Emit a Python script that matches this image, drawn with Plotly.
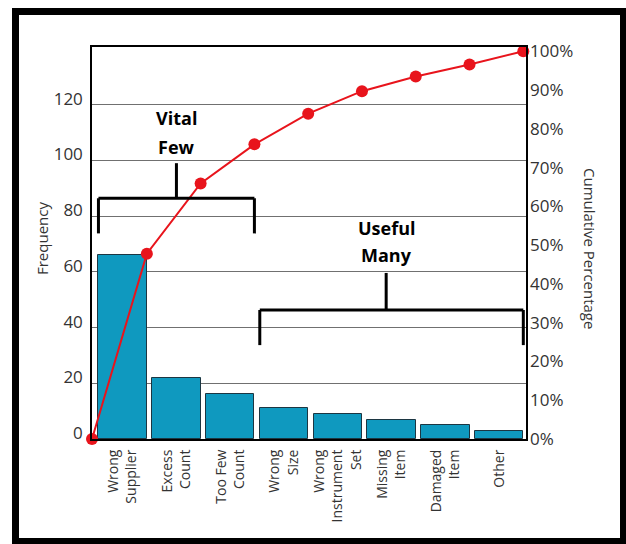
import plotly.graph_objects as go

# ---- data -------------------------------------------------------------
categories = ["Wrong<br>Supplier", "Excess<br>Count", "Too Few<br>Count", "Wrong<br>Size",
              "Wrong<br>Instrument<br>Set", "Missing<br>Item", "Damaged<br>Item", "Other"]
frequency = [66, 22, 16, 11, 9, 7, 5, 3]
cumulative_pct = [0, 47.8, 65.9, 76.0, 83.9, 89.7, 93.5, 96.6, 100]
freq_ticks = [0, 20, 40, 60, 80, 100, 120]
pct_ticks = [0, 10, 20, 30, 40, 50, 60, 70, 80, 90, 100]
pct_labels = [f"{v}%" for v in pct_ticks]

# bracket groups: (first bar, last bar, centre x, label lines)
groups = [
    (0, 2, 1.0, ["Vital", "Few"]),
    (3, 7, 4.9, ["Useful", "Many"]),
]
# bracket geometry in frequency units: (bar level, leg bottom, stem top, text line centres)
bracket_levels = [
    (86.4, 73.8, 99.0, [115.2, 104.8]),
    (46.3, 33.7, 59.6, [75.8, 66.0]),
]

# ---- layout constants -------------------------------------------------
W, H = 626, 544
ML, MR, MT, MB = 92, 100, 47, 105
PW, PH = W - ML - MR, H - MT - MB
BAR_W = 0.9
X_RANGE = [-0.57, len(categories) - 0.5]
Y_RANGE = [0, 140.7]
Y2_RANGE = [0, 101.1]
FONT = "Open Sans, Noto Sans, DejaVu Sans, sans-serif"
TXT = "#333333"
BAR_COLOR = "#0f99bf"
LINE_RED = "#e8141c"


def paper_x(px):
    return (px - ML) / PW


def paper_y(py):
    return (H - MB - py) / PH


idx = list(range(len(categories)))
line_x = [X_RANGE[0]] + [i + BAR_W / 2 for i in idx]

fig = go.Figure()

fig.add_trace(go.Bar(
    x=idx, y=frequency, width=BAR_W,
    marker=dict(color=BAR_COLOR, line=dict(color="#1c3642", width=1)),
    yaxis="y", showlegend=False,
))

fig.add_trace(go.Scatter(
    x=line_x, y=cumulative_pct, yaxis="y2", mode="lines+markers",
    line=dict(color=LINE_RED, width=2),
    marker=dict(color=LINE_RED, size=12),
    cliponaxis=False, showlegend=False,
))

shapes = []
annotations = []

# brackets with their labels
for (first, last, cx, lines), (level, leg, stem, text_y) in zip(groups, bracket_levels):
    left = first - BAR_W / 2
    right = last + BAR_W / 2
    seg = dict(type="line", xref="x", yref="y", line=dict(color="black", width=3), layer="above")
    shapes.append({**seg, "x0": left, "x1": right, "y0": level, "y1": level})
    shapes.append({**seg, "x0": left, "x1": left, "y0": level, "y1": leg})
    shapes.append({**seg, "x0": right, "x1": right, "y0": level, "y1": leg})
    shapes.append({**seg, "x0": cx, "x1": cx, "y0": level, "y1": stem})
    for word, ty in zip(lines, text_y):
        annotations.append(dict(
            x=cx, y=ty, xref="x", yref="y", text=f"<b>{word}</b>", showarrow=False,
            font=dict(family=FONT, size=18, color="black"),
            xanchor="center", yanchor="middle",
        ))

# outer black frame around the whole figure
shapes.append(dict(
    type="rect", xref="paper", yref="paper",
    x0=paper_x(15.5), x1=paper_x(623.5), y0=paper_y(541.5), y1=paper_y(11.5),
    line=dict(color="black", width=7), fillcolor="rgba(0,0,0,0)", layer="above",
))

# axis titles
annotations.append(dict(
    x=paper_x(42), y=paper_y(239), xref="paper", yref="paper", text="Frequency",
    textangle=-90, showarrow=False, font=dict(family=FONT, size=15, color=TXT),
    xanchor="center", yanchor="middle",
))
annotations.append(dict(
    x=paper_x(590), y=paper_y(248), xref="paper", yref="paper", text="Cumulative Percentage",
    textangle=90, showarrow=False, font=dict(family=FONT, size=15, color=TXT),
    xanchor="center", yanchor="middle",
))

fig.update_layout(
    width=W, height=H,
    margin=dict(l=ML, r=MR, t=MT, b=MB, pad=0),
    paper_bgcolor="white", plot_bgcolor="white",
    bargap=0,
    shapes=shapes, annotations=annotations,
    xaxis=dict(
        range=X_RANGE, tickmode="array", tickvals=idx, ticktext=categories,
        tickangle=-90, tickfont=dict(family=FONT, size=14, color=TXT),
        showgrid=False, zeroline=False, showline=True, mirror=True,
        linecolor="black", linewidth=2, ticks="", ticklabelstandoff=3,
    ),
    yaxis=dict(
        range=Y_RANGE, tickmode="array", tickvals=freq_ticks,
        tickfont=dict(family=FONT, size=17, color=TXT),
        showgrid=True, gridcolor="#707070", gridwidth=1.2,
        zeroline=False, showline=True, mirror=True, linecolor="black", linewidth=1.5,
        ticks="", ticklabelstandoff=4, ticklabelshift=-6,
    ),
    yaxis2=dict(
        range=Y2_RANGE, overlaying="y", side="right", tickmode="array",
        tickvals=pct_ticks, ticktext=pct_labels,
        tickfont=dict(family=FONT, size=17, color=TXT),
        showgrid=False, zeroline=False, showline=False, ticks="", ticklabelstandoff=3,
    ),
)

fig.write_html("out.html")
